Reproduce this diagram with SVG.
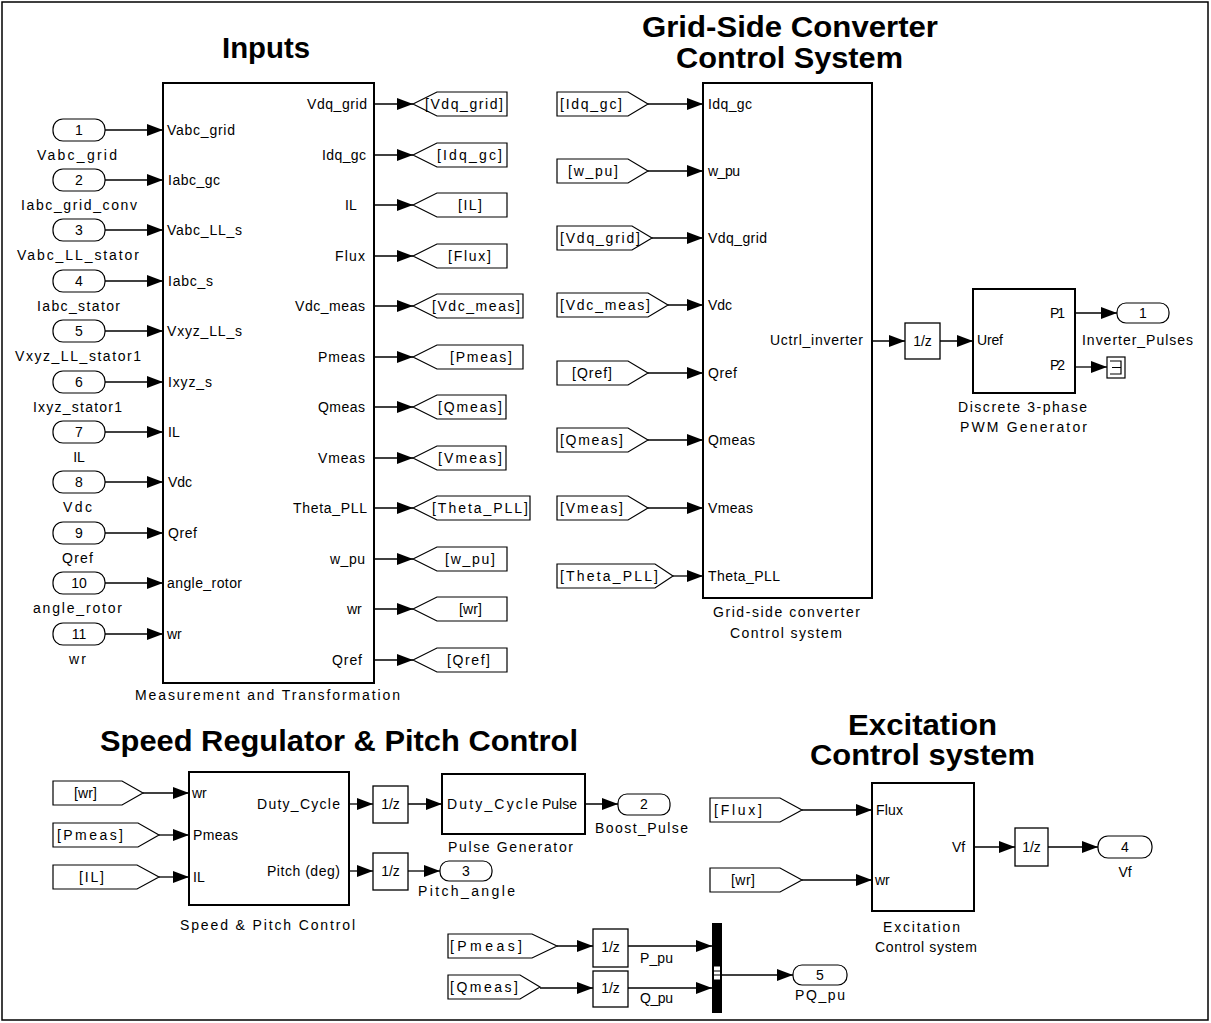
<svg xmlns="http://www.w3.org/2000/svg" width="1211" height="1023" viewBox="0 0 1211 1023">
<defs>
<marker id="ah" markerUnits="userSpaceOnUse" markerWidth="16" markerHeight="12" refX="16" refY="6" orient="auto">
<path d="M0,0 L16,6 L0,12 z" fill="#000"/>
</marker>
</defs>
<style>
text{font-family:"Liberation Sans",Arial,sans-serif;font-size:14px;fill:#000}
.ti{font-weight:bold;font-size:29px}
.m{text-anchor:middle}
.blk{fill:#fff;stroke:#000;stroke-width:2}
.tag{fill:#fff;stroke:#000;stroke-width:1.2}
.port{fill:#fff;stroke:#000;stroke-width:1.2}
.del{fill:#fff;stroke:#000;stroke-width:1.3}
#connectors line{stroke:#000;stroke-width:1.3;fill:none;marker-end:url(#ah)}
</style>
<rect x="0" y="0" width="1211" height="1023" fill="#fff"/>
<rect x="2" y="2" width="1206" height="1018" fill="none" stroke="#000" stroke-width="1.5"/>

<g id="titles">
<text class="ti" x="222" y="58" textLength="88" lengthAdjust="spacingAndGlyphs">Inputs</text>
<text class="ti" x="642" y="37" textLength="296" lengthAdjust="spacingAndGlyphs">Grid-Side Converter</text>
<text class="ti" x="676" y="68" textLength="227" lengthAdjust="spacingAndGlyphs">Control System</text>
<text class="ti" x="100" y="751" textLength="478" lengthAdjust="spacingAndGlyphs">Speed Regulator &amp; Pitch Control</text>
<text class="ti" x="848" y="735" textLength="149" lengthAdjust="spacingAndGlyphs">Excitation</text>
<text class="ti" x="810" y="765" textLength="225" lengthAdjust="spacingAndGlyphs">Control system</text>
</g>

<!-- Inports -->
<g id="in1"><rect class="port" x="53" y="119" width="52" height="22" rx="10"/><text class="m" x="79" y="135">1</text><text x="37" y="160" textLength="80">Vabc_grid</text></g>
<g id="in2"><rect class="port" x="53" y="169" width="52" height="22" rx="10"/><text class="m" x="79" y="185">2</text><text x="21" y="210" textLength="116">Iabc_grid_conv</text></g>
<g id="in3"><rect class="port" x="53" y="219" width="52" height="22" rx="10"/><text class="m" x="79" y="235">3</text><text x="17" y="260" textLength="122">Vabc_LL_stator</text></g>
<g id="in4"><rect class="port" x="53" y="270" width="52" height="22" rx="10"/><text class="m" x="79" y="286">4</text><text x="37" y="311" textLength="83">Iabc_stator</text></g>
<g id="in5"><rect class="port" x="53" y="320" width="52" height="22" rx="10"/><text class="m" x="79" y="336">5</text><text x="15" y="361" textLength="126">Vxyz_LL_stator1</text></g>
<g id="in6"><rect class="port" x="53" y="371" width="52" height="22" rx="10"/><text class="m" x="79" y="387">6</text><text x="33" y="412" textLength="89">Ixyz_stator1</text></g>
<g id="in7"><rect class="port" x="53" y="421" width="52" height="22" rx="10"/><text class="m" x="79" y="437">7</text><text class="m" x="79" y="462">IL</text></g>
<g id="in8"><rect class="port" x="53" y="471" width="52" height="22" rx="10"/><text class="m" x="79" y="487">8</text><text x="63" y="512" textLength="29">Vdc</text></g>
<g id="in9"><rect class="port" x="53" y="522" width="52" height="22" rx="10"/><text class="m" x="79" y="538">9</text><text x="62" y="563" textLength="31">Qref</text></g>
<g id="in10"><rect class="port" x="53" y="572" width="52" height="22" rx="10"/><text class="m" x="79" y="588">10</text><text x="33" y="613" textLength="89">angle_rotor</text></g>
<g id="in11"><rect class="port" x="53" y="623" width="52" height="22" rx="10"/><text class="m" x="79" y="639">11</text><text x="69" y="664" textLength="17">wr</text></g>

<!-- Measurement and Transformation -->
<g id="meas">
<rect class="blk" x="163" y="83" width="211" height="600"/>
<text x="167" y="135" textLength="68">Vabc_grid</text>
<text x="168" y="185" textLength="52">Iabc_gc</text>
<text x="167" y="235" textLength="75">Vabc_LL_s</text>
<text x="168" y="286" textLength="45">Iabc_s</text>
<text x="167" y="336" textLength="75">Vxyz_LL_s</text>
<text x="168" y="387" textLength="44">Ixyz_s</text>
<text x="168" y="437">IL</text>
<text x="168" y="487" textLength="24">Vdc</text>
<text x="168" y="538" textLength="29">Qref</text>
<text x="167" y="588" textLength="75">angle_rotor</text>
<text x="167" y="639">wr</text>
<text x="307" y="109" textLength="60">Vdq_grid</text>
<text x="322" y="160" textLength="44">Idq_gc</text>
<text x="345" y="210">IL</text>
<text x="335" y="261" textLength="30">Flux</text>
<text x="295" y="311" textLength="70">Vdc_meas</text>
<text x="318" y="362" textLength="47">Pmeas</text>
<text x="318" y="412" textLength="47">Qmeas</text>
<text x="318" y="463" textLength="47">Vmeas</text>
<text x="293" y="513" textLength="74">Theta_PLL</text>
<text x="330" y="564" textLength="35">w_pu</text>
<text x="347" y="614">wr</text>
<text x="332" y="665" textLength="30">Qref</text>
<text x="135" y="700" textLength="265">Measurement and Transformation</text>
</g>

<!-- Goto tags -->
<g id="goto_Vdq_grid"><polygon class="tag" points="413,104 437,92 507,92 507,116 437,116"/><text x="425" y="109" textLength="78">[Vdq_grid]</text></g>
<g id="goto_Idq_gc"><polygon class="tag" points="413,155 437,143 507,143 507,167 437,167"/><text x="437" y="160" textLength="65">[Idq_gc]</text></g>
<g id="goto_IL"><polygon class="tag" points="413,205 437,193 507,193 507,217 437,217"/><text x="458" y="210" textLength="24">[IL]</text></g>
<g id="goto_Flux"><polygon class="tag" points="413,256 437,244 507,244 507,268 437,268"/><text x="448" y="261" textLength="43">[Flux]</text></g>
<g id="goto_Vdc_meas"><polygon class="tag" points="413,306 437,294 523,294 523,318 437,318"/><text x="432" y="311" textLength="88">[Vdc_meas]</text></g>
<g id="goto_Pmeas"><polygon class="tag" points="413,357 437,345 523,345 523,369 437,369"/><text x="450" y="362" textLength="62">[Pmeas]</text></g>
<g id="goto_Qmeas"><polygon class="tag" points="413,407 437,395 506,395 506,419 437,419"/><text x="438" y="412" textLength="64">[Qmeas]</text></g>
<g id="goto_Vmeas"><polygon class="tag" points="413,458 437,446 506,446 506,470 437,470"/><text x="438" y="463" textLength="64">[Vmeas]</text></g>
<g id="goto_Theta_PLL"><polygon class="tag" points="413,508 437,496 530,496 530,520 437,520"/><text x="432" y="513" textLength="96">[Theta_PLL]</text></g>
<g id="goto_w_pu"><polygon class="tag" points="413,559 437,547 507,547 507,571 437,571"/><text x="445" y="564" textLength="50">[w_pu]</text></g>
<g id="goto_wr"><polygon class="tag" points="413,609 437,597 507,597 507,621 437,621"/><text x="459" y="614" textLength="23">[wr]</text></g>
<g id="goto_Qref"><polygon class="tag" points="413,660 437,648 507,648 507,672 437,672"/><text x="447" y="665" textLength="43">[Qref]</text></g>

<!-- From tags for grid-side -->
<g id="from_Idq_gc"><polygon class="tag" points="557,92 628,92 648,104 628,116 557,116"/><text x="560" y="109" textLength="62">[Idq_gc]</text></g>
<g id="from_w_pu"><polygon class="tag" points="557,159 628,159 648,171 628,183 557,183"/><text x="568" y="176" textLength="50">[w_pu]</text></g>
<g id="from_Vdq_grid"><polygon class="tag" points="557,226 632,226 652,238 632,250 557,250"/><text x="560" y="243" textLength="80">[Vdq_grid]</text></g>
<g id="from_Vdc_meas"><polygon class="tag" points="557,293 648,293 668,305 648,317 557,317"/><text x="560" y="310" textLength="90">[Vdc_meas]</text></g>
<g id="from_Qref"><polygon class="tag" points="557,361 628,361 648,373 628,385 557,385"/><text x="572" y="378" textLength="40">[Qref]</text></g>
<g id="from_Qmeas"><polygon class="tag" points="557,428 628,428 648,440 628,452 557,452"/><text x="560" y="445" textLength="63">[Qmeas]</text></g>
<g id="from_Vmeas"><polygon class="tag" points="557,496 628,496 648,508 628,520 557,520"/><text x="560" y="513" textLength="63">[Vmeas]</text></g>
<g id="from_Theta_PLL"><polygon class="tag" points="557,564 655,564 673,576 655,588 557,588"/><text x="560" y="581" textLength="98">[Theta_PLL]</text></g>

<!-- Grid-side converter control -->
<g id="gridside">
<rect class="blk" x="703" y="83" width="169" height="515"/>
<text x="708" y="109" textLength="44">Idq_gc</text>
<text x="708" y="176" textLength="32">w_pu</text>
<text x="708" y="243" textLength="59">Vdq_grid</text>
<text x="708" y="310" textLength="24">Vdc</text>
<text x="708" y="378" textLength="29">Qref</text>
<text x="708" y="445" textLength="47">Qmeas</text>
<text x="708" y="513" textLength="45">Vmeas</text>
<text x="708" y="581" textLength="72">Theta_PLL</text>
<text x="770" y="345" textLength="93">Uctrl_inverter</text>
<text x="713" y="617" textLength="147">Grid-side converter</text>
<text x="730" y="638" textLength="112">Control system</text>
</g>

<g id="delay_inv"><rect class="del" x="905" y="323" width="35" height="36"/><text class="m" x="922.5" y="346">1/z</text></g>

<g id="pwm">
<rect class="blk" x="973" y="289" width="102" height="104"/>
<text x="977" y="345" textLength="26">Uref</text>
<text x="1050" y="318" textLength="15">P1</text>
<text x="1050" y="370" textLength="15">P2</text>
<text x="958" y="412" textLength="129">Discrete 3-phase</text>
<text x="960" y="432" textLength="127">PWM Generator</text>
</g>

<g id="out1"><rect class="port" x="1117" y="303" width="52" height="20" rx="9"/><text class="m" x="1143" y="318">1</text><text x="1082" y="345" textLength="111">Inverter_Pulses</text></g>

<g id="term"><rect x="1107" y="357" width="18" height="21" fill="#fff" stroke="#000" stroke-width="1.2"/><path d="M1110,361 H1121 V374 H1110 M1112,367.5 H1121" fill="none" stroke="#000" stroke-width="1.2"/></g>

<!-- Speed & Pitch -->
<g id="from_wr_sp"><polygon class="tag" points="53,781 122,781 143,793 122,805 53,805"/><text x="74" y="798" textLength="23">[wr]</text></g>
<g id="from_Pmeas_sp"><polygon class="tag" points="53,823 138,823 159,835 138,847 53,847"/><text x="57" y="840" textLength="66">[Pmeas]</text></g>
<g id="from_IL_sp"><polygon class="tag" points="53,865 137,865 159,877 137,889 53,889"/><text x="79" y="882" textLength="25">[IL]</text></g>

<g id="speedpitch">
<rect class="blk" x="189" y="772" width="160" height="133"/>
<text x="192" y="798">wr</text>
<text x="193" y="840" textLength="45">Pmeas</text>
<text x="193" y="882">IL</text>
<text x="257" y="809" textLength="83">Duty_Cycle</text>
<text x="267" y="876" textLength="73">Pitch (deg)</text>
<text x="180" y="930" textLength="175">Speed &amp; Pitch Control</text>
</g>

<g id="delay_duty"><rect class="del" x="373" y="786" width="35" height="37"/><text class="m" x="390.5" y="809">1/z</text></g>
<g id="delay_pitch"><rect class="del" x="373" y="853" width="35" height="37"/><text class="m" x="390.5" y="876">1/z</text></g>

<g id="pulsegen">
<rect class="blk" x="442" y="774" width="143" height="60"/>
<text x="447" y="809" textLength="91">Duty_Cycle</text>
<text x="542" y="809" textLength="35">Pulse</text>
<text x="448" y="852" textLength="125">Pulse Generator</text>
</g>

<g id="out2"><rect class="port" x="618" y="794" width="52" height="21" rx="9"/><text class="m" x="644" y="809">2</text><text x="595" y="833" textLength="93">Boost_Pulse</text></g>
<g id="out3"><rect class="port" x="440" y="861" width="52" height="20" rx="9"/><text class="m" x="466" y="876">3</text><text x="418" y="896" textLength="97">Pitch_angle</text></g>

<!-- PQ mux -->
<g id="from_Pmeas_pq"><polygon class="tag" points="448,934 532,934 557,946 532,958 448,958"/><text x="450" y="951" textLength="72">[Pmeas]</text></g>
<g id="from_Qmeas_pq"><polygon class="tag" points="448,975 520,975 540,987 520,999 448,999"/><text x="450" y="992" textLength="68">[Qmeas]</text></g>
<g id="delay_P"><rect class="del" x="593" y="929" width="35" height="38"/><text class="m" x="610.5" y="952">1/z</text></g>
<g id="delay_Q"><rect class="del" x="593" y="971" width="35" height="36"/><text class="m" x="610.5" y="993">1/z</text></g>
<g id="mux">
<rect x="712" y="923" width="10" height="90" fill="#000"/>
<rect x="713.5" y="966" width="7" height="14" fill="#fff" stroke="#000" stroke-width="1"/>
<line x1="713.5" y1="971" x2="720.5" y2="971" stroke="#000" stroke-width="1"/>
<line x1="713.5" y1="975" x2="720.5" y2="975" stroke="#000" stroke-width="1"/>
</g>
<g id="out5"><rect class="port" x="793" y="965" width="54" height="20" rx="9"/><text class="m" x="820" y="980">5</text><text x="795" y="1000" textLength="50">PQ_pu</text></g>

<!-- Excitation -->
<g id="from_Flux_ex"><polygon class="tag" points="710,798 780,798 802,810 780,822 710,822"/><text x="714" y="815" textLength="48">[Flux]</text></g>
<g id="from_wr_ex"><polygon class="tag" points="710,868 780,868 802,880 780,892 710,892"/><text x="731" y="885" textLength="24">[wr]</text></g>
<g id="excitation">
<rect class="blk" x="872" y="783" width="102" height="128"/>
<text x="876" y="815" textLength="27">Flux</text>
<text x="875" y="885">wr</text>
<text x="952" y="852">Vf</text>
<text x="883" y="932" textLength="77">Excitation</text>
<text x="875" y="952" textLength="102">Control system</text>
</g>
<g id="delay_vf"><rect class="del" x="1015" y="828" width="33" height="38"/><text class="m" x="1031.5" y="852">1/z</text></g>
<g id="out4"><rect class="port" x="1098" y="836" width="54" height="22" rx="10"/><text class="m" x="1125" y="852">4</text><text class="m" x="1125" y="877">Vf</text></g>

<g id="connectors">
<line x1="105" y1="130" x2="163" y2="130"/>
<line x1="105" y1="180" x2="163" y2="180"/>
<line x1="105" y1="230" x2="163" y2="230"/>
<line x1="105" y1="281" x2="163" y2="281"/>
<line x1="105" y1="331" x2="163" y2="331"/>
<line x1="105" y1="382" x2="163" y2="382"/>
<line x1="105" y1="432" x2="163" y2="432"/>
<line x1="105" y1="482" x2="163" y2="482"/>
<line x1="105" y1="533" x2="163" y2="533"/>
<line x1="105" y1="583" x2="163" y2="583"/>
<line x1="105" y1="634" x2="163" y2="634"/>
<line x1="374" y1="104" x2="413" y2="104"/>
<line x1="374" y1="155" x2="413" y2="155"/>
<line x1="374" y1="205" x2="413" y2="205"/>
<line x1="374" y1="256" x2="413" y2="256"/>
<line x1="374" y1="306" x2="413" y2="306"/>
<line x1="374" y1="357" x2="413" y2="357"/>
<line x1="374" y1="407" x2="413" y2="407"/>
<line x1="374" y1="458" x2="413" y2="458"/>
<line x1="374" y1="508" x2="413" y2="508"/>
<line x1="374" y1="559" x2="413" y2="559"/>
<line x1="374" y1="609" x2="413" y2="609"/>
<line x1="374" y1="660" x2="413" y2="660"/>
<line x1="648" y1="104" x2="703" y2="104"/>
<line x1="648" y1="171" x2="703" y2="171"/>
<line x1="652" y1="238" x2="703" y2="238"/>
<line x1="668" y1="305" x2="703" y2="305"/>
<line x1="648" y1="373" x2="703" y2="373"/>
<line x1="648" y1="440" x2="703" y2="440"/>
<line x1="648" y1="508" x2="703" y2="508"/>
<line x1="673" y1="576" x2="703" y2="576"/>
<line x1="872" y1="341" x2="905" y2="341"/>
<line x1="940" y1="341" x2="973" y2="341"/>
<line x1="1075" y1="313" x2="1117" y2="313"/>
<line x1="1075" y1="367" x2="1107" y2="367"/>
<line x1="143" y1="793" x2="189" y2="793"/>
<line x1="159" y1="835" x2="189" y2="835"/>
<line x1="159" y1="877" x2="189" y2="877"/>
<line x1="349" y1="804" x2="373" y2="804"/>
<line x1="349" y1="871" x2="373" y2="871"/>
<line x1="408" y1="804" x2="442" y2="804"/>
<line x1="408" y1="871" x2="440" y2="871"/>
<line x1="585" y1="804" x2="618" y2="804"/>
<line x1="557" y1="946" x2="593" y2="946"/>
<line x1="540" y1="988" x2="593" y2="988"/>
<line x1="628" y1="946" x2="712" y2="946"/>
<line x1="628" y1="988" x2="712" y2="988"/>
<line x1="722" y1="975" x2="793" y2="975"/>
<line x1="802" y1="810" x2="872" y2="810"/>
<line x1="802" y1="880" x2="872" y2="880"/>
<line x1="974" y1="847" x2="1015" y2="847"/>
<line x1="1048" y1="847" x2="1098" y2="847"/>
</g>
<g id="edge-labels">
<text x="640" y="963" textLength="33">P_pu</text>
<text x="640" y="1003" textLength="33">Q_pu</text>
</g>
</svg>
